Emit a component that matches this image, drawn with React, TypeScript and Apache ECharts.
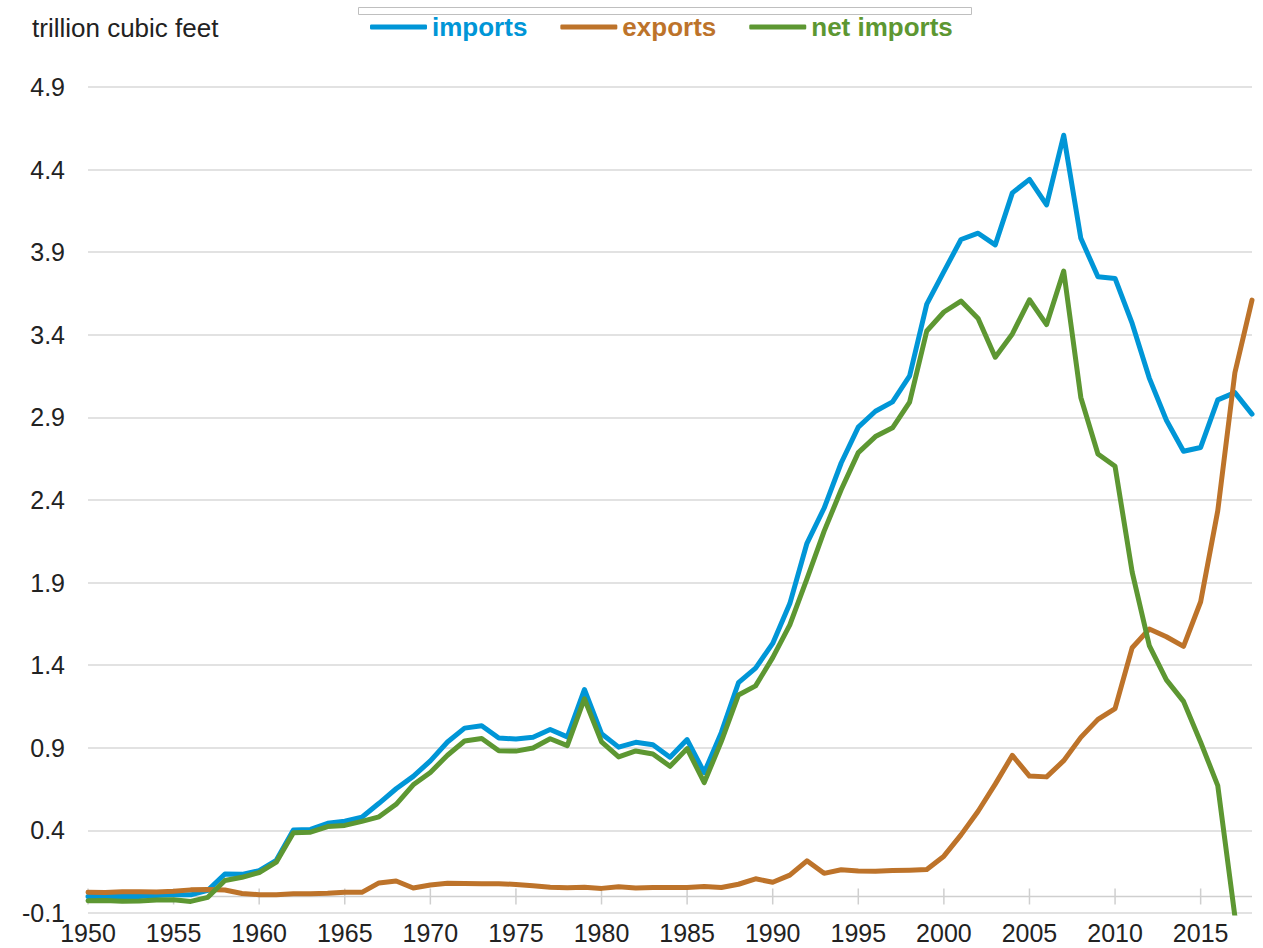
import React, { useEffect, useRef } from "react";
import * as echarts from "echarts";

const years = [
  1950, 1951, 1952, 1953, 1954, 1955, 1956, 1957, 1958, 1959,
  1960, 1961, 1962, 1963, 1964, 1965, 1966, 1967, 1968, 1969,
  1970, 1971, 1972, 1973, 1974, 1975, 1976, 1977, 1978, 1979,
  1980, 1981, 1982, 1983, 1984, 1985, 1986, 1987, 1988, 1989,
  1990, 1991, 1992, 1993, 1994, 1995, 1996, 1997, 1998, 1999,
  2000, 2001, 2002, 2003, 2004, 2005, 2006, 2007, 2008, 2009,
  2010, 2011, 2012, 2013, 2014, 2015, 2016, 2017, 2018,
];

const imports = [
  0, 0, 0, 0, 0.006, 0.011, 0.01, 0.037, 0.136, 0.134,
  0.156, 0.219, 0.402, 0.406, 0.443, 0.456, 0.48, 0.564, 0.652, 0.727,
  0.821, 0.935, 1.019, 1.033, 0.959, 0.953, 0.964, 1.011, 0.966, 1.253,
  0.985, 0.904, 0.933, 0.918, 0.843, 0.95, 0.75, 0.993, 1.294, 1.382,
  1.532, 1.773, 2.138, 2.35, 2.624, 2.841, 2.937, 2.994, 3.152, 3.586,
  3.782, 3.977, 4.015, 3.944, 4.259, 4.341, 4.186, 4.608, 3.984, 3.751,
  3.741, 3.469, 3.138, 2.883, 2.695, 2.718, 3.006, 3.05, 2.92,
];

const exportsData = [
  0.026, 0.024, 0.029, 0.028, 0.027, 0.031, 0.04, 0.042, 0.039, 0.018,
  0.011, 0.011, 0.016, 0.017, 0.02, 0.026, 0.025, 0.082, 0.094, 0.051,
  0.07, 0.08, 0.078, 0.077, 0.077, 0.073, 0.065, 0.056, 0.053, 0.056,
  0.049, 0.059, 0.052, 0.055, 0.055, 0.055, 0.061, 0.054, 0.074, 0.107,
  0.086, 0.129, 0.216, 0.14, 0.162, 0.154, 0.153, 0.157, 0.159, 0.163,
  0.244, 0.373, 0.516, 0.68, 0.854, 0.729, 0.724, 0.822, 0.963, 1.072,
  1.137, 1.506, 1.619, 1.572, 1.514, 1.784, 2.335, 3.17, 3.61,
];

const netImports = [
  -0.026, -0.024, -0.029, -0.028, -0.021, -0.02, -0.03, -0.005, 0.097, 0.116,
  0.145, 0.208, 0.386, 0.389, 0.423, 0.43, 0.455, 0.482, 0.558, 0.676,
  0.751, 0.855, 0.941, 0.956, 0.882, 0.88, 0.899, 0.955, 0.913, 1.197,
  0.936, 0.845, 0.881, 0.863, 0.788, 0.895, 0.689, 0.939, 1.22, 1.275,
  1.446, 1.644, 1.922, 2.21, 2.462, 2.687, 2.784, 2.837, 2.993, 3.423,
  3.538, 3.604, 3.499, 3.264, 3.405, 3.612, 3.462, 3.786, 3.021, 2.679,
  2.604, 1.963, 1.519, 1.311, 1.181, 0.934, 0.671, -0.12, -0.69,
];

const xTickYears = [1950, 1955, 1960, 1965, 1970, 1975, 1980, 1985, 1990, 1995, 2000, 2005, 2010, 2015];
const yTickValues = [-0.1, 0.4, 0.9, 1.4, 1.9, 2.4, 2.9, 3.4, 3.9, 4.4, 4.9];

const seriesNames = ["imports", "exports", "net imports"];
const seriesColors = ["#0096D7", "#BD732A", "#5D9732"];
const unitLabel = "trillion cubic feet";

const FONT = "'Liberation Sans', Arial, Helvetica, sans-serif";
const GRID_COLOR = "#d9d9d9";
const AXIS_COLOR = "#cfcfcf";

export default function App() {
  const ref = useRef<HTMLDivElement>(null);

  useEffect(() => {
    if (!ref.current) return;
    const chart = echarts.init(ref.current, null, { renderer: "svg" });
    const pairs = (vals: number[]) => years.map((y, i) => [y, vals[i]]);
    const allValues = [imports, exportsData, netImports];
    const xMin = years[0];
    const xMax = years[years.length - 1];

    const lineSeries = seriesNames.map((n, i) => ({
      name: n,
      type: "line",
      data: pairs(allValues[i]),
      showSymbol: false,
      symbol: "none",
      clip: true,
      color: seriesColors[i],
      lineStyle: { width: 5, color: seriesColors[i], join: "round", cap: "round" },
      z: 3 + i,
    }));

    // horizontal axis line at zero
    const zeroLine = {
      type: "line",
      name: "zero line",
      silent: true,
      symbol: "none",
      showSymbol: false,
      z: 1,
      data: [
        [xMin, 0],
        [xMax, 0],
      ],
      lineStyle: { color: AXIS_COLOR, width: 1.5 },
      color: AXIS_COLOR,
    };

    // cross tick marks on the zero axis line
    const tickSeries = {
      type: "custom",
      name: "axis ticks",
      silent: true,
      z: 1,
      clip: false,
      data: xTickYears.map((yr) => [yr, 0]),
      renderItem: (_params: any, api: any) => {
        const p = api.coord([api.value(0), api.value(1)]);
        return {
          type: "line",
          shape: { x1: p[0], y1: p[1] - 8, x2: p[0], y2: p[1] + 8 },
          style: { stroke: AXIS_COLOR, lineWidth: 1.5 },
        };
      },
    };

    const option: any = {
      animation: false,
      backgroundColor: "#ffffff",
      textStyle: { fontFamily: FONT },
      grid: { left: 88, right: 11, top: 87, bottom: 35, outerBoundsMode: "none", containLabel: false },
      legend: {
        left: 370,
        top: 14,
        padding: 0,
        itemWidth: 57,
        itemHeight: 5,
        itemGap: 33,
        icon: "roundRect",
        textStyle: { fontSize: 26, fontWeight: "bold", fontFamily: FONT },
        data: seriesNames.map((n, i) => ({ name: n, textStyle: { color: seriesColors[i] } })),
      },
      graphic: [
        {
          type: "rect",
          left: 358,
          top: 7,
          shape: { width: 613, height: 7 },
          style: { fill: "#ffffff", stroke: "#bfbfbf", lineWidth: 1 },
        },
        {
          type: "text",
          left: 32,
          top: 15,
          style: { text: unitLabel, fontSize: 26, fill: "#222222", fontFamily: FONT },
        },
      ],
      xAxis: {
        type: "value",
        min: xMin,
        max: xMax,
        interval: 5,
        splitLine: { show: false },
        axisLine: { show: false, onZero: false },
        axisTick: { show: false },
        axisLabel: {
          fontSize: 25,
          color: "#222222",
          margin: 7,
          fontFamily: FONT,
          customValues: xTickYears,
          formatter: (v: number) => String(v),
        },
      },
      yAxis: {
        type: "value",
        min: yTickValues[0],
        max: yTickValues[yTickValues.length - 1],
        interval: 0.5,
        axisLine: { show: false },
        axisTick: { show: false },
        splitLine: { show: true, lineStyle: { color: GRID_COLOR, width: 1.5 } },
        axisLabel: {
          fontSize: 25,
          color: "#222222",
          margin: 23,
          fontFamily: FONT,
          formatter: (v: number) => v.toFixed(1),
        },
      },
      series: [zeroLine, tickSeries, ...lineSeries],
    };

    chart.setOption(option);
    return () => chart.dispose();
  }, []);

  return (
    <div
      ref={ref}
      style={{ position: "absolute", left: 0, top: 0, width: 1263, height: 948, background: "#fff" }}
    />
  );
}
